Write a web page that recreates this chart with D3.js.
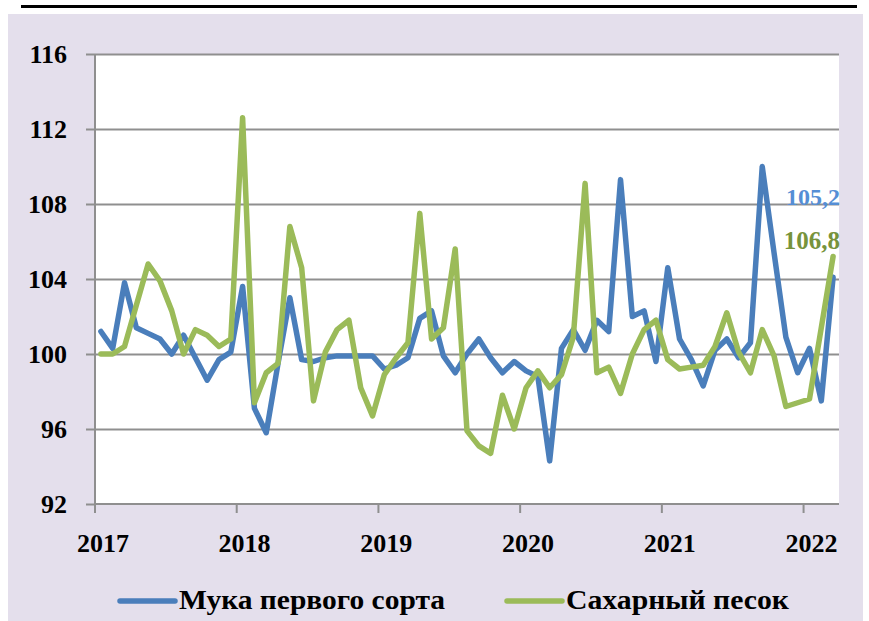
<!DOCTYPE html>
<html><head><meta charset="utf-8">
<script src="https://cdn.jsdelivr.net/npm/d3@7"></script>
<style>html,body{margin:0;padding:0;background:#fff;} text{font-family:"Liberation Serif","Times New Roman",serif;font-weight:bold;}</style>
</head><body>
<svg id="chart" width="869" height="621"></svg>
<script>
// ---- data ----
const yearLabels = ["2017","2018","2019","2020","2021","2022"];
const yTicks = [92, 96, 100, 104, 108, 112, 116];
const seriesNames = ["Мука первого сорта", "Сахарный песок"];
const flour = [
101.2,100.3,103.8,101.4,101.1,100.8,100.0,101.0,99.8,98.6,99.7,100.1,
103.6,97.1,95.8,99.5,103.0,99.7,99.6,99.8,99.9,99.9,99.9,99.9,
99.2,99.4,99.8,101.9,102.3,99.9,99.0,100.0,100.8,99.8,99.0,99.6,
99.1,98.8,94.3,100.3,101.3,100.2,101.8,101.2,109.3,102.0,102.3,99.6,
104.6,100.8,99.7,98.3,100.2,100.8,99.8,100.6,110.0,105.4,100.9,99.0,
100.3,97.5,104.1];
const sugar = [
100.0,100.0,100.4,102.6,104.8,103.9,102.3,100.0,101.3,101.0,100.4,100.8,
112.6,97.4,99.0,99.5,106.8,104.6,97.5,100.1,101.3,101.8,98.2,96.7,
98.9,99.8,100.6,107.5,100.8,101.4,105.6,95.9,95.1,94.7,97.8,96.0,
98.2,99.1,98.2,98.9,100.9,109.1,99.0,99.3,97.9,100.0,101.3,101.8,
99.7,99.2,99.3,99.4,100.4,102.2,100.1,99.0,101.3,99.9,97.2,97.4,
97.6,101.4,105.2];
const endLabels = ["105,2", "106,8"];
const colors = ["#4a7ebb", "#9bbb59"];
const labelColors = ["#558ed5", "#77933c"];

// ---- layout ----
const svg = d3.select("#chart");
const L = 95, R = 839, T = 54, B = 504;
const months = d3.range(flour.length);

svg.append("rect").attr("x", 8).attr("y", 14).attr("width", 855).attr("height", 607).attr("fill", "#e4dfec");
svg.append("line").attr("x1", 21).attr("x2", 857).attr("y1", 6.5).attr("y2", 6.5).attr("stroke", "#000").attr("stroke-width", 3);
svg.append("rect").attr("x", L).attr("y", T).attr("width", R - L).attr("height", B - T).attr("fill", "#fff");

const x = d3.scaleBand().domain(months).range([L, R]).padding(0);
const bw = x.bandwidth();
const cx = i => x(i) + bw / 2;
const y = d3.scaleLinear().domain([92, 116]).range([B, T]);

const gridColor = "#8f8f8f";
// gridlines
const grid = svg.append("g").attr("transform", `translate(${L},0)`)
  .call(d3.axisLeft(y).tickValues(yTicks.slice(1)).tickSize(-(R - L)).tickFormat(""));
grid.select(".domain").remove();
grid.selectAll("line").attr("stroke", gridColor).attr("stroke-width", 2);

// y axis
const ya = svg.append("g").attr("transform", `translate(${L},0)`)
  .call(d3.axisLeft(y).tickValues(yTicks).tickSize(9).tickPadding(19).tickFormat(d3.format("d")));
ya.select(".domain").attr("stroke", gridColor).attr("stroke-width", 2).attr("d", `M0,${T}V${B + 9}`);
ya.selectAll("line").attr("stroke", gridColor).attr("stroke-width", 2);
ya.selectAll("text").attr("font-size", 26).attr("fill", "#000").attr("font-family", "Liberation Serif").attr("font-weight", "bold").attr("dy", "0.33em");

// x axis
const yearStarts = months.filter(i => i % 12 === 0);
const xa = svg.append("g").attr("transform", `translate(0,${B})`);
xa.append("line").attr("x1", L).attr("x2", R).attr("y1", 0).attr("y2", 0).attr("stroke", gridColor).attr("stroke-width", 2);
xa.selectAll("line.tick").data(yearStarts).enter().append("line")
  .attr("class", "tick").attr("x1", d => x(d)).attr("x2", d => x(d)).attr("y1", 0).attr("y2", 9)
  .attr("stroke", gridColor).attr("stroke-width", 2);
xa.selectAll("text").data(yearStarts).enter().append("text")
  .attr("x", d => cx(d) + 2).attr("y", 48).attr("text-anchor", "middle")
  .attr("font-size", 26).attr("fill", "#000").text((d, k) => yearLabels[k]);

// lines
const line = d3.line().x((d, i) => cx(i)).y(d => y(d));
[flour, sugar].forEach((s, k) => {
  svg.append("path").datum(s).attr("d", line).attr("fill", "none")
    .attr("stroke", colors[k]).attr("stroke-width", 5.5)
    .attr("stroke-linejoin", "round").attr("stroke-linecap", "round");
});

// end labels
svg.append("text").attr("x", 840).attr("y", 205).attr("text-anchor", "end").attr("font-size", 24)
  .attr("fill", labelColors[0]).text(endLabels[0]);
svg.append("text").attr("x", 840).attr("y", 249).attr("text-anchor", "end").attr("font-size", 25)
  .attr("fill", labelColors[1]).text(endLabels[1]);

// legend
const legendX = [120, 507];
const legendW = [266, 223];
seriesNames.forEach((n, k) => {
  svg.append("line").attr("x1", legendX[k]).attr("x2", legendX[k] + 55).attr("y1", 601).attr("y2", 601)
    .attr("stroke", colors[k]).attr("stroke-width", 5.5).attr("stroke-linecap", "round");
  svg.append("text").attr("x", legendX[k] + 59).attr("y", 609).attr("font-size", 27).attr("fill", "#000")
    .attr("textLength", legendW[k]).attr("lengthAdjust", "spacingAndGlyphs").text(n);
});
</script>
</body></html>
